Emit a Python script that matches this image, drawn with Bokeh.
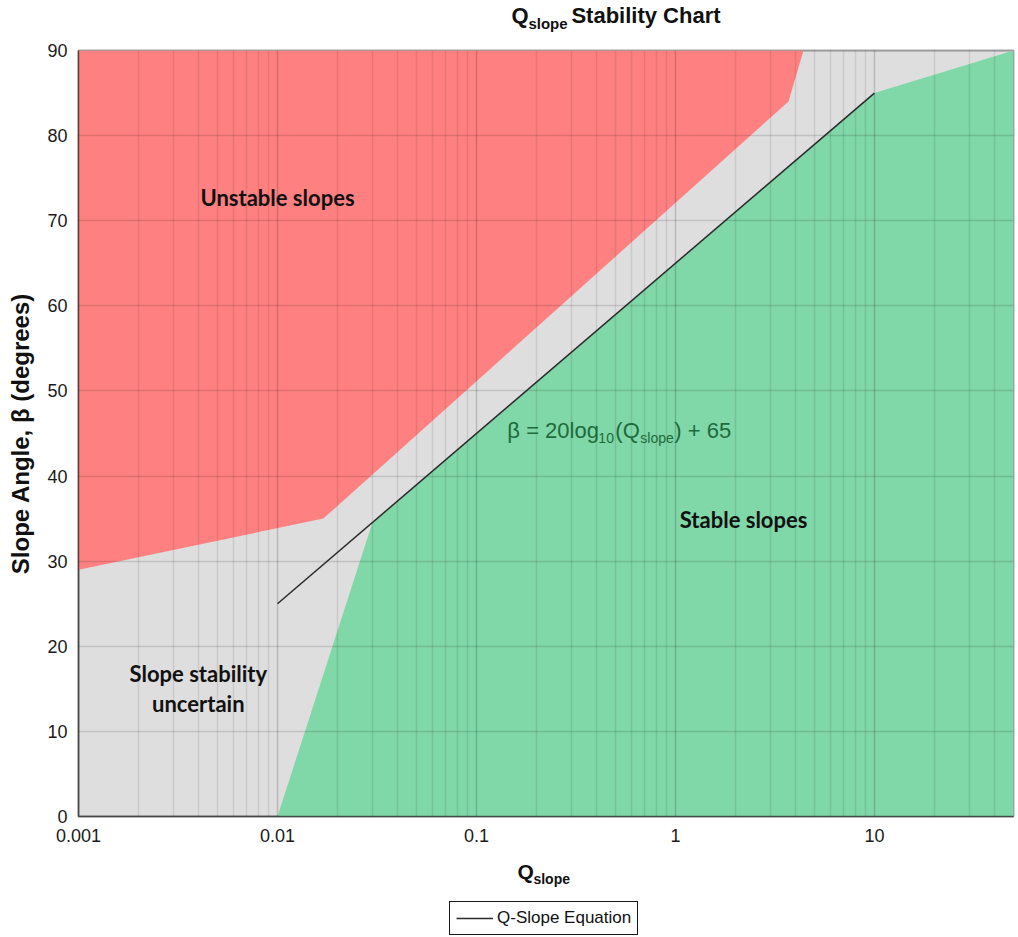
from bokeh.plotting import figure
from bokeh.layouts import column
from bokeh.models import FixedTicker, PrintfTickFormatter, Label, Legend, LegendItem
from bokeh.embed import file_html
from bokeh.resources import INLINE

# ---------------- data ----------------
unstable_q = [0.001, 0.017, 3.7, 4.4, 0.001]
unstable_beta = [29, 35, 84, 90, 90]
stable_q = [0.01, 0.03, 10, 50, 50]
stable_beta = [0, 34.5, 85, 90, 0]
equation_q = [0.01, 10]
equation_beta = [25, 85]
x_major_ticks = [0.001, 0.01, 0.1, 1, 10]
y_ticks = [0, 10, 20, 30, 40, 50, 60, 70, 80, 90]
x_minor_ticks = [m * d for d in x_major_ticks for m in range(2, 10) if m * d < 50]

FONT = "Liberation Sans"
RED = "#FF8080"
GREEN = "#80D7A8"
GREY = "#DEDEDE"
W = 1018
ML, MR = 78, 5

# ---------------- main chart ----------------
p = figure(width=W, height=818, x_axis_type="log",
           x_range=(0.001, 50), y_range=(0, 90),
           output_backend="svg", toolbar_location=None,
           min_border_left=ML, min_border_right=MR,
           min_border_top=12, min_border_bottom=40)
p.background_fill_color = GREY
p.outline_line_color = "black"
p.outline_line_alpha = 0.35
p.outline_line_width = 2

p.patch(unstable_q, unstable_beta, fill_color=RED, line_color=None)
p.patch(stable_q, stable_beta, fill_color=GREEN, line_color=None)
eq_r = p.line(equation_q, equation_beta, line_color="#2a2a2a", line_width=1.5)
eq_r.level = "annotation"

p.xaxis.ticker = FixedTicker(ticks=x_major_ticks)
p.xaxis.formatter = PrintfTickFormatter(format="%g")
p.yaxis.ticker = FixedTicker(ticks=y_ticks)
for ax in (p.xaxis[0], p.yaxis[0]):
    ax.major_tick_out = 0
    ax.major_tick_in = 0
    ax.minor_tick_out = 0
    ax.minor_tick_in = 0
    ax.major_label_text_font = FONT
    ax.major_label_text_font_size = "18px"
    ax.major_label_text_color = "#1a1a1a"
    ax.axis_line_color = "black"
    ax.axis_line_alpha = 0.55
    ax.axis_line_width = 1.5
p.xaxis.major_label_standoff = 12
p.yaxis.major_label_standoff = 11
p.yaxis.axis_label = "Slope Angle, β (degrees)"
p.yaxis.axis_label_text_font = FONT
p.yaxis.axis_label_text_font_size = "24px"
p.yaxis.axis_label_text_font_style = "bold"
p.yaxis.axis_label_text_color = "#111111"
p.yaxis.axis_label_standoff = 10

p.xgrid.ticker = FixedTicker(ticks=x_major_ticks, minor_ticks=x_minor_ticks)
p.xgrid.grid_line_color = "black"
p.xgrid.grid_line_alpha = 0.17
p.xgrid.grid_line_width = 1.5
p.xgrid.minor_grid_line_color = "black"
p.xgrid.minor_grid_line_alpha = 0.09
p.xgrid.minor_grid_line_width = 1.5
p.ygrid.ticker = FixedTicker(ticks=y_ticks)
p.ygrid.grid_line_color = "black"
p.ygrid.grid_line_alpha = 0.13
p.ygrid.grid_line_width = 1.5
p.xgrid.level = "guide"
p.ygrid.level = "guide"


def lab(fig, x, y, text, size, style="normal", font=FONT, color="#111111",
        align="left", xo=0, yo=0):
    fig.add_layout(Label(x=x, y=y, text=text, text_font=font,
                         text_font_size=size, text_font_style=style,
                         text_color=color, text_align=align,
                         text_baseline="middle", x_offset=xo, y_offset=yo))


# region labels
lab(p, 0.01, 72.7, "Unstable slopes", "22px", "bold", font="Lato", align="center")
lab(p, 0.004, 16.8, "Slope stability", "22px", "bold", font="Lato", align="center")
lab(p, 0.004, 13.3, "uncertain", "22px", "bold", font="Lato", align="center")
lab(p, 2.2, 34.9, "Stable slopes", "22px", "bold", font="Lato", align="center")

# equation text
EQC = "#1d6b3a"
lab(p, 0.143, 45.4, "β = 20log", "22px", color=EQC, xo=0)
lab(p, 0.143, 45.4, "10", "14px", color=EQC, xo=91, yo=-8)
lab(p, 0.143, 45.4, "(Q", "22px", color=EQC, xo=108)
lab(p, 0.143, 45.4, "slope", "14px", color=EQC, xo=133, yo=-8)
lab(p, 0.143, 45.4, ") + 65", "22px", color=EQC, xo=167)


def blank(height):
    f = figure(width=W, height=height, x_axis_type="log", x_range=p.x_range,
               y_range=(0, 1), output_backend="svg", toolbar_location=None,
               min_border_left=ML, min_border_right=MR,
               min_border_top=0, min_border_bottom=0,
               x_axis_location=None, y_axis_location=None)
    f.outline_line_color = None
    f.grid.visible = False
    return f


# ---------------- title strip ----------------
top = blank(38)
lab(top, 1, 0, "Q", "22px", "bold", xo=-164, yo=23)
lab(top, 1, 0, "slope", "15px", "bold", xo=-147, yo=15)
lab(top, 1, 0, "Stability Chart", "22px", "bold", xo=-104, yo=23)

# ---------------- x label + legend strip ----------------
bot = blank(81)
lab(bot, 1, 1, "Q", "21px", "bold", xo=-158, yo=-15)
lab(bot, 1, 1, "slope", "14px", "bold", xo=-142, yo=-22)
legend_line = bot.line(equation_q, equation_beta, line_color="#2a2a2a", line_width=1.5)
legend = Legend(items=[LegendItem(label="Q-Slope Equation", renderers=[legend_line])],
                location=(371, 2), orientation="horizontal",
                padding=6, spacing=0, margin=0,
                label_height=18, glyph_height=18, glyph_width=37,
                label_standoff=4,
                label_text_font=FONT, label_text_font_size="17px",
                label_text_color="#111111",
                border_line_color="black", border_line_alpha=0.9,
                border_line_width=1.5,
                background_fill_color="white", background_fill_alpha=1)
bot.add_layout(legend)

layout = column(top, p, bot, spacing=0)
open("out.html", "w").write(file_html(layout, INLINE))
